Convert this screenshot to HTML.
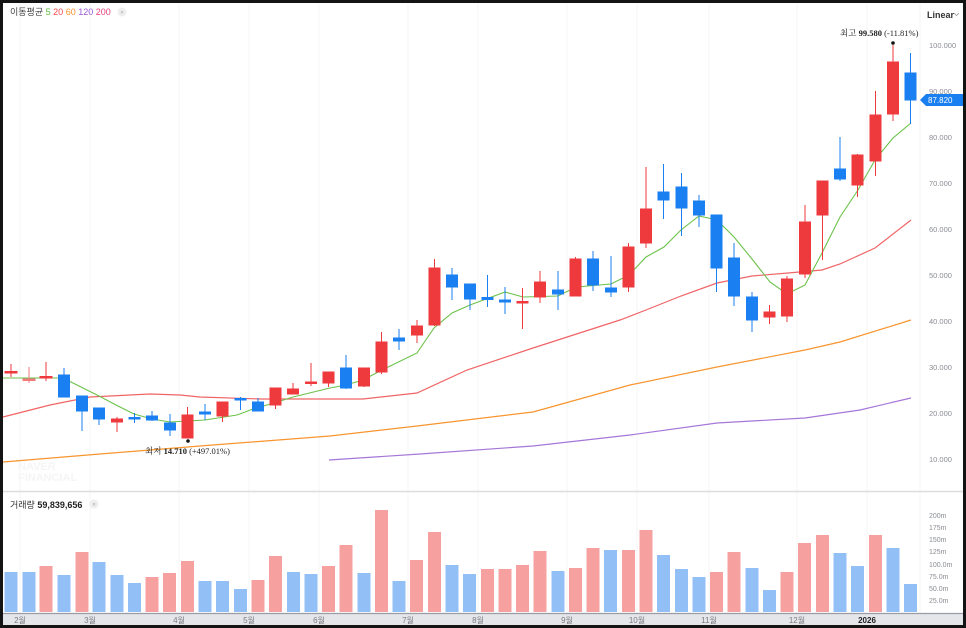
<!DOCTYPE html>
<html><head><meta charset="utf-8"><style>
html,body{margin:0;padding:0;background:#111;}
svg{display:block;font-family:"Liberation Sans","Noto Sans CJK KR",sans-serif;}
</style></head><body>
<svg width="966" height="628" viewBox="0 0 966 628" xmlns="http://www.w3.org/2000/svg">
<rect x="0" y="0" width="966" height="628" fill="#141414"/>
<rect x="3" y="3" width="960" height="622" fill="#ffffff"/>
<!-- grid -->
<g stroke="#f5f6f7" stroke-width="1">
<line x1="20" y1="3" x2="20" y2="613"/><line x1="90" y1="3" x2="90" y2="613"/><line x1="179" y1="3" x2="179" y2="613"/><line x1="249" y1="3" x2="249" y2="613"/><line x1="319" y1="3" x2="319" y2="613"/><line x1="408" y1="3" x2="408" y2="613"/><line x1="478" y1="3" x2="478" y2="613"/><line x1="567" y1="3" x2="567" y2="613"/><line x1="637" y1="3" x2="637" y2="613"/><line x1="709" y1="3" x2="709" y2="613"/><line x1="797" y1="3" x2="797" y2="613"/><line x1="867" y1="3" x2="867" y2="613"/><line x1="920" y1="3" x2="920" y2="613"/>
</g>
<line x1="3" y1="491.5" x2="963" y2="491.5" stroke="#dcdde0" stroke-width="1.5"/>
<!-- x axis band -->
<rect x="3" y="613" width="960" height="12" fill="#e4e6ea"/>
<line x1="3" y1="613.5" x2="963" y2="613.5" stroke="#9a9da3" stroke-width="1.2"/>
<g font-size="8" fill="#7a7d84" text-anchor="middle">
<text x="20" y="623">2월</text><text x="90" y="623">3월</text><text x="179" y="623">4월</text><text x="249" y="623">5월</text><text x="319" y="623">6월</text><text x="408" y="623">7월</text><text x="478" y="623">8월</text><text x="567" y="623">9월</text><text x="637" y="623">10월</text><text x="709" y="623">11월</text><text x="797" y="623">12월</text><text x="867" y="623" fill="#222" font-weight="bold">2026</text>
</g>
<!-- price axis labels -->
<g font-size="7.5" fill="#8a8d93">
<text x="929" y="48">100.000</text><text x="929" y="94">90.000</text><text x="929" y="140">80.000</text><text x="929" y="186">70.000</text><text x="929" y="232">60.000</text><text x="929" y="278">50.000</text><text x="929" y="324">40.000</text><text x="929" y="370">30.000</text><text x="929" y="416">20.000</text><text x="929" y="462">10.000</text>
</g>
<text x="927" y="18" font-size="9" fill="#333" font-weight="bold">Linear</text>
<path d="M954 13 l2.5 2.5 l2.5 -2.5" fill="none" stroke="#999" stroke-width="0.8"/>
<!-- volume axis -->
<g font-size="7" fill="#8a8d93">
<text x="929" y="518">200m</text><text x="929" y="530">175m</text><text x="929" y="542">150m</text><text x="929" y="554">125m</text><text x="929" y="567">100.0m</text><text x="929" y="579">75.0m</text><text x="929" y="591">50.0m</text><text x="929" y="603">25.0m</text>
</g>
<!-- legend -->
<text x="10" y="15" font-size="9" fill="#444">이동평균 <tspan fill="#5cbf3c">5</tspan> <tspan fill="#f0474b">20</tspan> <tspan fill="#f7922a">60</tspan> <tspan fill="#9b59d6">120</tspan> <tspan fill="#e8407a">200</tspan></text>
<circle cx="122" cy="12" r="4.5" fill="#eeeeee"/><text x="122" y="14.5" font-size="6" fill="#aaa" text-anchor="middle">×</text>
<text x="10" y="508" font-size="9" fill="#333">거래량 <tspan font-weight="bold" fill="#222">59,839,656</tspan></text>
<circle cx="94" cy="504" r="4.5" fill="#eeeeee"/><text x="94" y="506.5" font-size="6" fill="#aaa" text-anchor="middle">×</text>
<!-- watermark -->
<text x="18" y="470" font-size="11" font-weight="bold" fill="#f5f5f7">NAVER</text>
<text x="18" y="481" font-size="11" font-weight="bold" fill="#f5f5f7">FINANCIAL</text>
<!-- volume bars -->
<g>
<rect x="4.5" y="572" width="13" height="40" fill="#93bff7"/>
<rect x="22.5" y="572" width="13" height="40" fill="#93bff7"/>
<rect x="39.5" y="566" width="13" height="46" fill="#f7a0a0"/>
<rect x="57.5" y="575" width="13" height="37" fill="#93bff7"/>
<rect x="75.5" y="552" width="13" height="60" fill="#f7a0a0"/>
<rect x="92.5" y="562" width="13" height="50" fill="#93bff7"/>
<rect x="110.5" y="575" width="13" height="37" fill="#93bff7"/>
<rect x="128" y="583" width="13" height="29" fill="#93bff7"/>
<rect x="145.5" y="577" width="13" height="35" fill="#f7a0a0"/>
<rect x="163" y="573" width="13" height="39" fill="#f7a0a0"/>
<rect x="181" y="561" width="13" height="51" fill="#f7a0a0"/>
<rect x="198.5" y="581" width="13" height="31" fill="#93bff7"/>
<rect x="216" y="581" width="13" height="31" fill="#93bff7"/>
<rect x="234" y="589" width="13" height="23" fill="#93bff7"/>
<rect x="251.5" y="580" width="13" height="32" fill="#f7a0a0"/>
<rect x="269" y="556" width="13" height="56" fill="#f7a0a0"/>
<rect x="287" y="572" width="13" height="40" fill="#93bff7"/>
<rect x="304.5" y="574" width="13" height="38" fill="#93bff7"/>
<rect x="322" y="566" width="13" height="46" fill="#f7a0a0"/>
<rect x="339.5" y="545" width="13" height="67" fill="#f7a0a0"/>
<rect x="357.5" y="573" width="13" height="39" fill="#93bff7"/>
<rect x="375" y="510" width="13" height="102" fill="#f7a0a0"/>
<rect x="392.5" y="581" width="13" height="31" fill="#93bff7"/>
<rect x="410" y="560" width="13" height="52" fill="#f7a0a0"/>
<rect x="428" y="532" width="13" height="80" fill="#f7a0a0"/>
<rect x="445.5" y="565" width="13" height="47" fill="#93bff7"/>
<rect x="463" y="574" width="13" height="38" fill="#93bff7"/>
<rect x="481" y="569" width="13" height="43" fill="#f7a0a0"/>
<rect x="498.5" y="569" width="13" height="43" fill="#f7a0a0"/>
<rect x="516" y="565" width="13" height="47" fill="#f7a0a0"/>
<rect x="533.5" y="551" width="13" height="61" fill="#f7a0a0"/>
<rect x="551.5" y="571" width="13" height="41" fill="#93bff7"/>
<rect x="569" y="568" width="13" height="44" fill="#f7a0a0"/>
<rect x="586.5" y="548" width="13" height="64" fill="#f7a0a0"/>
<rect x="604" y="550" width="13" height="62" fill="#93bff7"/>
<rect x="622" y="550" width="13" height="62" fill="#f7a0a0"/>
<rect x="639.5" y="530" width="13" height="82" fill="#f7a0a0"/>
<rect x="657" y="555" width="13" height="57" fill="#93bff7"/>
<rect x="675" y="569" width="13" height="43" fill="#93bff7"/>
<rect x="692.5" y="577" width="13" height="35" fill="#93bff7"/>
<rect x="710" y="572" width="13" height="40" fill="#f7a0a0"/>
<rect x="727.5" y="552" width="13" height="60" fill="#f7a0a0"/>
<rect x="745.5" y="568" width="13" height="44" fill="#93bff7"/>
<rect x="763" y="590" width="13" height="22" fill="#93bff7"/>
<rect x="780.5" y="572" width="13" height="40" fill="#f7a0a0"/>
<rect x="798" y="543" width="13" height="69" fill="#f7a0a0"/>
<rect x="816" y="535" width="13" height="77" fill="#f7a0a0"/>
<rect x="833.5" y="553" width="13" height="59" fill="#93bff7"/>
<rect x="851" y="566" width="13" height="46" fill="#93bff7"/>
<rect x="869" y="535" width="13" height="77" fill="#f7a0a0"/>
<rect x="886.5" y="548" width="13" height="64" fill="#93bff7"/>
<rect x="904" y="584" width="13" height="28" fill="#93bff7"/>
</g>
<!-- moving averages -->
<polyline fill="none" stroke="#a676d8" stroke-width="1.2" points="329,460 420,454 533,446 630,435 717,423 805,418 860,410 911,398"/>
<polyline fill="none" stroke="#f7952f" stroke-width="1.2" points="3,462 100,454 200,446 330,436 417,426 533,412 630,385 717,367 805,350 840,342 911,320"/>
<polyline fill="none" stroke="#f06466" stroke-width="1.2" points="3,417 50,405 90,397 150,394 180,395 200,397 260,399 300,399 363,399 417,393 467,370 533,348 620,320 646,310 681,296 717,283 752,276 788,273 822,270 840,264 875,248 911,220"/>
<polyline fill="none" stroke="#6cc24a" stroke-width="1.1" points="3,378 63,378 81,387 99,396 116,405 134,414 152,419 170,422 205,420 237,415 253,409 274,403 293,397 330,388 346,385 363,380 382,370 417,353 434,328 452,313 470,305 505,292 523,297 558,296 576,287 611,284 629,275 646,257 664,247 681,230 699,216 717,220 734,237 752,259 770,282 787,294 805,285 822,253 840,217 858,190 875,160 893,138 911,123"/>
<!-- candles -->
<g stroke-width="1">
<g stroke="#ef3a3d" fill="#ef3a3d"><line x1="11" y1="364" x2="11" y2="377"/><rect x="5" y="371.5" width="12" height="1.5"/></g>
<g stroke="#f27a7c" fill="#f27a7c"><line x1="29" y1="367" x2="29" y2="383"/><rect x="23" y="379" width="12" height="1.5"/></g>
<g stroke="#ef3a3d" fill="#ef3a3d"><line x1="46" y1="362" x2="46" y2="381"/><rect x="40" y="376.5" width="12" height="1.5"/></g>
<g stroke="#1a7ff0" fill="#1a7ff0"><line x1="64" y1="368" x2="64" y2="397"/><rect x="58.5" y="375" width="11" height="22"/></g>
<g stroke="#1a7ff0" fill="#1a7ff0"><line x1="82" y1="396" x2="82" y2="431"/><rect x="76.5" y="396" width="11" height="15"/></g>
<g stroke="#1a7ff0" fill="#1a7ff0"><line x1="99" y1="408" x2="99" y2="425"/><rect x="93.5" y="408" width="11" height="11"/></g>
<g stroke="#ef3a3d" fill="#ef3a3d"><line x1="117" y1="417" x2="117" y2="432"/><rect x="111.5" y="419" width="11" height="3"/></g>
<g stroke="#1a7ff0" fill="#1a7ff0"><line x1="134.5" y1="413" x2="134.5" y2="423"/><rect x="129" y="417.5" width="11" height="1.5"/></g>
<g stroke="#1a7ff0" fill="#1a7ff0"><line x1="152" y1="411" x2="152" y2="421"/><rect x="146.5" y="416" width="11" height="4"/></g>
<g stroke="#1a7ff0" fill="#1a7ff0"><line x1="170" y1="414" x2="170" y2="436"/><rect x="164.5" y="423" width="11" height="7"/></g>
<g stroke="#ef3a3d" fill="#ef3a3d"><line x1="187.5" y1="407" x2="187.5" y2="438"/><rect x="182" y="415" width="11" height="23"/></g>
<g stroke="#1a7ff0" fill="#1a7ff0"><line x1="205" y1="404" x2="205" y2="420"/><rect x="199.5" y="412" width="11" height="2"/></g>
<g stroke="#ef3a3d" fill="#ef3a3d"><line x1="222.5" y1="402" x2="222.5" y2="422"/><rect x="217" y="402" width="11" height="14"/></g>
<g stroke="#1a7ff0" fill="#1a7ff0"><line x1="240.5" y1="397" x2="240.5" y2="410"/><rect x="235" y="398.5" width="11" height="1.5"/></g>
<g stroke="#1a7ff0" fill="#1a7ff0"><line x1="258" y1="398" x2="258" y2="411"/><rect x="252.5" y="402" width="11" height="9"/></g>
<g stroke="#ef3a3d" fill="#ef3a3d"><line x1="275.5" y1="388" x2="275.5" y2="409"/><rect x="270" y="388" width="11" height="17"/></g>
<g stroke="#ef3a3d" fill="#ef3a3d"><line x1="293" y1="383" x2="293" y2="394"/><rect x="287.5" y="389" width="11" height="5"/></g>
<g stroke="#ef3a3d" fill="#ef3a3d"><line x1="311" y1="363" x2="311" y2="386"/><rect x="305.5" y="382" width="11" height="1.5"/></g>
<g stroke="#ef3a3d" fill="#ef3a3d"><line x1="328.5" y1="372" x2="328.5" y2="387"/><rect x="323" y="372" width="11" height="11"/></g>
<g stroke="#1a7ff0" fill="#1a7ff0"><line x1="346" y1="355" x2="346" y2="389"/><rect x="340.5" y="368" width="11" height="20"/></g>
<g stroke="#ef3a3d" fill="#ef3a3d"><line x1="364" y1="368" x2="364" y2="387"/><rect x="358.5" y="368" width="11" height="18"/></g>
<g stroke="#ef3a3d" fill="#ef3a3d"><line x1="381.5" y1="332" x2="381.5" y2="374"/><rect x="376" y="342" width="11" height="30"/></g>
<g stroke="#1a7ff0" fill="#1a7ff0"><line x1="399" y1="329" x2="399" y2="350"/><rect x="393.5" y="338" width="11" height="3"/></g>
<g stroke="#ef3a3d" fill="#ef3a3d"><line x1="417" y1="320" x2="417" y2="343"/><rect x="411.5" y="326" width="11" height="9"/></g>
<g stroke="#ef3a3d" fill="#ef3a3d"><line x1="434.5" y1="259" x2="434.5" y2="326"/><rect x="429" y="268" width="11" height="57"/></g>
<g stroke="#1a7ff0" fill="#1a7ff0"><line x1="452" y1="268" x2="452" y2="300"/><rect x="446.5" y="275" width="11" height="12"/></g>
<g stroke="#1a7ff0" fill="#1a7ff0"><line x1="470" y1="284" x2="470" y2="310"/><rect x="464.5" y="284" width="11" height="15"/></g>
<g stroke="#1a7ff0" fill="#1a7ff0"><line x1="487.5" y1="275" x2="487.5" y2="307"/><rect x="482" y="297.5" width="11" height="2"/></g>
<g stroke="#1a7ff0" fill="#1a7ff0"><line x1="505" y1="287" x2="505" y2="314"/><rect x="499.5" y="300" width="11" height="2"/></g>
<g stroke="#ef3a3d" fill="#ef3a3d"><line x1="522.5" y1="288" x2="522.5" y2="329"/><rect x="517" y="301.5" width="11" height="1.5"/></g>
<g stroke="#ef3a3d" fill="#ef3a3d"><line x1="540" y1="271" x2="540" y2="303"/><rect x="534.5" y="282" width="11" height="15"/></g>
<g stroke="#1a7ff0" fill="#1a7ff0"><line x1="558" y1="271" x2="558" y2="310"/><rect x="552.5" y="290" width="11" height="4"/></g>
<g stroke="#ef3a3d" fill="#ef3a3d"><line x1="575.5" y1="257" x2="575.5" y2="296"/><rect x="570" y="259" width="11" height="37"/></g>
<g stroke="#1a7ff0" fill="#1a7ff0"><line x1="593" y1="251" x2="593" y2="291"/><rect x="587.5" y="259" width="11" height="26"/></g>
<g stroke="#1a7ff0" fill="#1a7ff0"><line x1="611" y1="256" x2="611" y2="297"/><rect x="605.5" y="288" width="11" height="4"/></g>
<g stroke="#ef3a3d" fill="#ef3a3d"><line x1="628.5" y1="243" x2="628.5" y2="292"/><rect x="623" y="247" width="11" height="40"/></g>
<g stroke="#ef3a3d" fill="#ef3a3d"><line x1="646" y1="167" x2="646" y2="248"/><rect x="640.5" y="209" width="11" height="34"/></g>
<g stroke="#1a7ff0" fill="#1a7ff0"><line x1="663.5" y1="164" x2="663.5" y2="219"/><rect x="658" y="192" width="11" height="8"/></g>
<g stroke="#1a7ff0" fill="#1a7ff0"><line x1="681.5" y1="173" x2="681.5" y2="236"/><rect x="676" y="187" width="11" height="21"/></g>
<g stroke="#1a7ff0" fill="#1a7ff0"><line x1="699" y1="195" x2="699" y2="227"/><rect x="693.5" y="201" width="11" height="14"/></g>
<g stroke="#1a7ff0" fill="#1a7ff0"><line x1="716.5" y1="215" x2="716.5" y2="292"/><rect x="711" y="215" width="11" height="53"/></g>
<g stroke="#1a7ff0" fill="#1a7ff0"><line x1="734" y1="243" x2="734" y2="306"/><rect x="728.5" y="258" width="11" height="38"/></g>
<g stroke="#1a7ff0" fill="#1a7ff0"><line x1="752" y1="292" x2="752" y2="332"/><rect x="746.5" y="297" width="11" height="23"/></g>
<g stroke="#ef3a3d" fill="#ef3a3d"><line x1="769.5" y1="305" x2="769.5" y2="324"/><rect x="764" y="312" width="11" height="5"/></g>
<g stroke="#ef3a3d" fill="#ef3a3d"><line x1="787" y1="276" x2="787" y2="322"/><rect x="781.5" y="279" width="11" height="37"/></g>
<g stroke="#ef3a3d" fill="#ef3a3d"><line x1="805" y1="205" x2="805" y2="278"/><rect x="799.5" y="222" width="11" height="52"/></g>
<g stroke="#ef3a3d" fill="#ef3a3d"><line x1="822.5" y1="181" x2="822.5" y2="260"/><rect x="817" y="181" width="11" height="34"/></g>
<g stroke="#1a7ff0" fill="#1a7ff0"><line x1="840" y1="137" x2="840" y2="181"/><rect x="834.5" y="169" width="11" height="10"/></g>
<g stroke="#ef3a3d" fill="#ef3a3d"><line x1="857.5" y1="154" x2="857.5" y2="197"/><rect x="852" y="155" width="11" height="30"/></g>
<g stroke="#ef3a3d" fill="#ef3a3d"><line x1="875.5" y1="91" x2="875.5" y2="176"/><rect x="870" y="115" width="11" height="46"/></g>
<g stroke="#ef3a3d" fill="#ef3a3d"><line x1="893" y1="45" x2="893" y2="121"/><rect x="887.5" y="62" width="11" height="52"/></g>
<g stroke="#1a7ff0" fill="#1a7ff0"><line x1="910.5" y1="53" x2="910.5" y2="124"/><rect x="905" y="73" width="11" height="27"/></g>
</g>
<!-- annotations -->
<circle cx="893" cy="43" r="1.8" fill="#111"/>
<text x="840" y="36" font-size="8.5" fill="#222" font-family="Liberation Serif, Noto Serif CJK SC, serif">최고 <tspan font-weight="bold">99.580</tspan> (-11.81%)</text>
<circle cx="188" cy="441" r="1.8" fill="#111"/>
<text x="145" y="454" font-size="8.5" fill="#222" font-family="Liberation Serif, Noto Serif CJK SC, serif">최저 <tspan font-weight="bold">14.710</tspan> (+497.01%)</text>
<!-- current price tag -->
<path d="M920 100 L926 94 L963 94 L963 106 L926 106 Z" fill="#1a7ff0"/>
<text x="928" y="103" font-size="8" fill="#fff">87.820</text>
</svg>
</body></html>
